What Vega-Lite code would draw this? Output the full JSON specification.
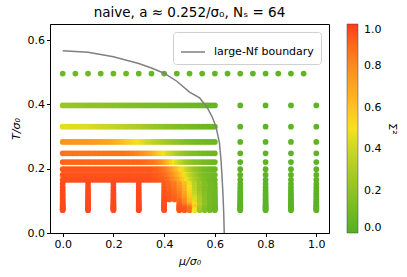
{
"$schema":"https://vega.github.io/schema/vega-lite/v6.json",
"width":279,"height":209,
"autosize":{"type":"none"},
"padding":{"left":50,"top":24,"right":78,"bottom":44},
"title":{"text":"naive, a ≈ 0.252/σ₀,   Nₛ = 64","fontSize":13.5,"fontWeight":"normal","font":"DejaVu Sans","anchor":"middle","frame":"group","offset":5,"color":"black"},
"config":{
"font":"DejaVu Sans",
"view":{"stroke":"black","strokeWidth":1},
"axis":{"grid":false,"domainColor":"black","tickColor":"black","tickSize":3.5,"labelFontSize":11,"labelColor":"black","titleFontSize":11,"titleFontWeight":"normal","titleColor":"black","labelFont":"DejaVu Sans","titleFont":"DejaVu Sans","titleFontStyle":"italic"}
},
"datasets":{
"curve":[
{"mu":0,"T":0.567},{"mu":0.1,"T":0.562},{"mu":0.2,"T":0.548},{"mu":0.3,"T":0.527},{"mu":0.35,"T":0.513},{"mu":0.4,"T":0.497},{"mu":0.45,"T":0.472},{"mu":0.5,"T":0.438},{"mu":0.54,"T":0.42},{"mu":0.57,"T":0.39},{"mu":0.59,"T":0.36},{"mu":0.605,"T":0.329},{"mu":0.618,"T":0.28},{"mu":0.624,"T":0.23},{"mu":0.628,"T":0.18},{"mu":0.632,"T":0.12},{"mu":0.635,"T":0.06},{"mu":0.637,"T":0}
],
"pts":[
{"mu":0,"T":0.496,"s":0.09},{"mu":0.05,"T":0.496,"s":0.09},{"mu":0.1,"T":0.496,"s":0.09},{"mu":0.15,"T":0.496,"s":0.08},{"mu":0.2,"T":0.496,"s":0.08},{"mu":0.25,"T":0.496,"s":0.08},{"mu":0.3,"T":0.496,"s":0.07},{"mu":0.35,"T":0.496,"s":0.07},{"mu":0.4,"T":0.496,"s":0.07},{"mu":0.45,"T":0.496,"s":0.06},{"mu":0.5,"T":0.496,"s":0.06},{"mu":0.55,"T":0.496,"s":0.06},{"mu":0.6,"T":0.496,"s":0.05},{"mu":0.65,"T":0.496,"s":0.05},{"mu":0.7,"T":0.496,"s":0.05},{"mu":0.75,"T":0.496,"s":0.04},{"mu":0.8,"T":0.496,"s":0.04},{"mu":0.85,"T":0.496,"s":0.04},{"mu":0.9,"T":0.496,"s":0.04},{"mu":0.95,"T":0.496,"s":0.04},

{"mu":0,"T":0.3968,"s":0.24},{"mu":0.01,"T":0.3968,"s":0.237},{"mu":0.02,"T":0.3968,"s":0.234},{"mu":0.03,"T":0.3968,"s":0.231},{"mu":0.04,"T":0.3968,"s":0.228},{"mu":0.05,"T":0.3968,"s":0.225},{"mu":0.06,"T":0.3968,"s":0.222},{"mu":0.07,"T":0.3968,"s":0.219},{"mu":0.08,"T":0.3968,"s":0.216},{"mu":0.09,"T":0.3968,"s":0.213},{"mu":0.1,"T":0.3968,"s":0.21},{"mu":0.11,"T":0.3968,"s":0.207},{"mu":0.12,"T":0.3968,"s":0.204},{"mu":0.13,"T":0.3968,"s":0.201},{"mu":0.14,"T":0.3968,"s":0.198},{"mu":0.15,"T":0.3968,"s":0.195},{"mu":0.16,"T":0.3968,"s":0.192},{"mu":0.17,"T":0.3968,"s":0.189},{"mu":0.18,"T":0.3968,"s":0.186},{"mu":0.19,"T":0.3968,"s":0.183},{"mu":0.2,"T":0.3968,"s":0.18},{"mu":0.21,"T":0.3968,"s":0.177},{"mu":0.22,"T":0.3968,"s":0.174},{"mu":0.23,"T":0.3968,"s":0.171},{"mu":0.24,"T":0.3968,"s":0.168},{"mu":0.25,"T":0.3968,"s":0.165},{"mu":0.26,"T":0.3968,"s":0.162},{"mu":0.27,"T":0.3968,"s":0.159},{"mu":0.28,"T":0.3968,"s":0.156},{"mu":0.29,"T":0.3968,"s":0.153},{"mu":0.3,"T":0.3968,"s":0.15},{"mu":0.31,"T":0.3968,"s":0.147},{"mu":0.32,"T":0.3968,"s":0.144},{"mu":0.33,"T":0.3968,"s":0.141},{"mu":0.34,"T":0.3968,"s":0.138},{"mu":0.35,"T":0.3968,"s":0.135},{"mu":0.36,"T":0.3968,"s":0.132},{"mu":0.37,"T":0.3968,"s":0.129},{"mu":0.38,"T":0.3968,"s":0.126},{"mu":0.39,"T":0.3968,"s":0.123},{"mu":0.4,"T":0.3968,"s":0.12},{"mu":0.41,"T":0.3968,"s":0.117},{"mu":0.42,"T":0.3968,"s":0.114},{"mu":0.43,"T":0.3968,"s":0.111},{"mu":0.44,"T":0.3968,"s":0.108},{"mu":0.45,"T":0.3968,"s":0.105},{"mu":0.46,"T":0.3968,"s":0.102},{"mu":0.47,"T":0.3968,"s":0.099},{"mu":0.48,"T":0.3968,"s":0.096},{"mu":0.49,"T":0.3968,"s":0.093},{"mu":0.5,"T":0.3968,"s":0.09},{"mu":0.51,"T":0.3968,"s":0.087},{"mu":0.52,"T":0.3968,"s":0.084},{"mu":0.53,"T":0.3968,"s":0.081},{"mu":0.54,"T":0.3968,"s":0.078},{"mu":0.55,"T":0.3968,"s":0.075},{"mu":0.56,"T":0.3968,"s":0.072},{"mu":0.57,"T":0.3968,"s":0.069},{"mu":0.58,"T":0.3968,"s":0.066},{"mu":0.59,"T":0.3968,"s":0.063},{"mu":0.6,"T":0.3968,"s":0.06},{"mu":0.7,"T":0.3968,"s":0.04},{"mu":0.8,"T":0.3968,"s":0.04},{"mu":0.9,"T":0.3968,"s":0.04},{"mu":1,"T":0.3968,"s":0.04},

{"mu":0,"T":0.3307,"s":0.46},{"mu":0.01,"T":0.3307,"s":0.46},{"mu":0.02,"T":0.3307,"s":0.46},{"mu":0.03,"T":0.3307,"s":0.455},{"mu":0.04,"T":0.3307,"s":0.45},{"mu":0.05,"T":0.3307,"s":0.45},{"mu":0.06,"T":0.3307,"s":0.45},{"mu":0.07,"T":0.3307,"s":0.445},{"mu":0.08,"T":0.3307,"s":0.44},{"mu":0.09,"T":0.3307,"s":0.44},{"mu":0.1,"T":0.3307,"s":0.44},{"mu":0.11,"T":0.3307,"s":0.435},{"mu":0.12,"T":0.3307,"s":0.43},{"mu":0.13,"T":0.3307,"s":0.425},{"mu":0.14,"T":0.3307,"s":0.42},{"mu":0.15,"T":0.3307,"s":0.41},{"mu":0.16,"T":0.3307,"s":0.4},{"mu":0.17,"T":0.3307,"s":0.395},{"mu":0.18,"T":0.3307,"s":0.39},{"mu":0.19,"T":0.3307,"s":0.385},{"mu":0.2,"T":0.3307,"s":0.38},{"mu":0.21,"T":0.3307,"s":0.37},{"mu":0.22,"T":0.3307,"s":0.36},{"mu":0.23,"T":0.3307,"s":0.355},{"mu":0.24,"T":0.3307,"s":0.35},{"mu":0.25,"T":0.3307,"s":0.34},{"mu":0.26,"T":0.3307,"s":0.33},{"mu":0.27,"T":0.3307,"s":0.325},{"mu":0.28,"T":0.3307,"s":0.32},{"mu":0.29,"T":0.3307,"s":0.31},{"mu":0.3,"T":0.3307,"s":0.3},{"mu":0.31,"T":0.3307,"s":0.29},{"mu":0.32,"T":0.3307,"s":0.28},{"mu":0.33,"T":0.3307,"s":0.27},{"mu":0.34,"T":0.3307,"s":0.26},{"mu":0.35,"T":0.3307,"s":0.25},{"mu":0.36,"T":0.3307,"s":0.24},{"mu":0.37,"T":0.3307,"s":0.23},{"mu":0.38,"T":0.3307,"s":0.22},{"mu":0.39,"T":0.3307,"s":0.21},{"mu":0.4,"T":0.3307,"s":0.2},{"mu":0.41,"T":0.3307,"s":0.19},{"mu":0.42,"T":0.3307,"s":0.18},{"mu":0.43,"T":0.3307,"s":0.175},{"mu":0.44,"T":0.3307,"s":0.17},{"mu":0.45,"T":0.3307,"s":0.16},{"mu":0.46,"T":0.3307,"s":0.15},{"mu":0.47,"T":0.3307,"s":0.145},{"mu":0.48,"T":0.3307,"s":0.14},{"mu":0.49,"T":0.3307,"s":0.13},{"mu":0.5,"T":0.3307,"s":0.12},{"mu":0.51,"T":0.3307,"s":0.115},{"mu":0.52,"T":0.3307,"s":0.11},{"mu":0.53,"T":0.3307,"s":0.105},{"mu":0.54,"T":0.3307,"s":0.1},{"mu":0.55,"T":0.3307,"s":0.095},{"mu":0.56,"T":0.3307,"s":0.09},{"mu":0.57,"T":0.3307,"s":0.085},{"mu":0.58,"T":0.3307,"s":0.08},{"mu":0.59,"T":0.3307,"s":0.075},{"mu":0.6,"T":0.3307,"s":0.07},{"mu":0.7,"T":0.3307,"s":0.04},{"mu":0.8,"T":0.3307,"s":0.04},{"mu":0.9,"T":0.3307,"s":0.04},{"mu":1,"T":0.3307,"s":0.04},

{"mu":0,"T":0.2834,"s":0.76},{"mu":0.01,"T":0.2834,"s":0.76},{"mu":0.02,"T":0.2834,"s":0.76},{"mu":0.03,"T":0.2834,"s":0.76},{"mu":0.04,"T":0.2834,"s":0.76},{"mu":0.05,"T":0.2834,"s":0.755},{"mu":0.06,"T":0.2834,"s":0.75},{"mu":0.07,"T":0.2834,"s":0.75},{"mu":0.08,"T":0.2834,"s":0.75},{"mu":0.09,"T":0.2834,"s":0.75},{"mu":0.1,"T":0.2834,"s":0.75},{"mu":0.11,"T":0.2834,"s":0.745},{"mu":0.12,"T":0.2834,"s":0.74},{"mu":0.13,"T":0.2834,"s":0.735},{"mu":0.14,"T":0.2834,"s":0.73},{"mu":0.15,"T":0.2834,"s":0.725},{"mu":0.16,"T":0.2834,"s":0.72},{"mu":0.17,"T":0.2834,"s":0.715},{"mu":0.18,"T":0.2834,"s":0.71},{"mu":0.19,"T":0.2834,"s":0.7},{"mu":0.2,"T":0.2834,"s":0.69},{"mu":0.21,"T":0.2834,"s":0.675},{"mu":0.22,"T":0.2834,"s":0.66},{"mu":0.23,"T":0.2834,"s":0.64},{"mu":0.24,"T":0.2834,"s":0.62},{"mu":0.25,"T":0.2834,"s":0.6},{"mu":0.26,"T":0.2834,"s":0.58},{"mu":0.27,"T":0.2834,"s":0.56},{"mu":0.28,"T":0.2834,"s":0.54},{"mu":0.29,"T":0.2834,"s":0.52},{"mu":0.3,"T":0.2834,"s":0.5},{"mu":0.31,"T":0.2834,"s":0.475},{"mu":0.32,"T":0.2834,"s":0.45},{"mu":0.33,"T":0.2834,"s":0.425},{"mu":0.34,"T":0.2834,"s":0.4},{"mu":0.35,"T":0.2834,"s":0.38},{"mu":0.36,"T":0.2834,"s":0.36},{"mu":0.37,"T":0.2834,"s":0.34},{"mu":0.38,"T":0.2834,"s":0.32},{"mu":0.39,"T":0.2834,"s":0.3},{"mu":0.4,"T":0.2834,"s":0.28},{"mu":0.41,"T":0.2834,"s":0.265},{"mu":0.42,"T":0.2834,"s":0.25},{"mu":0.43,"T":0.2834,"s":0.235},{"mu":0.44,"T":0.2834,"s":0.22},{"mu":0.45,"T":0.2834,"s":0.205},{"mu":0.46,"T":0.2834,"s":0.19},{"mu":0.47,"T":0.2834,"s":0.175},{"mu":0.48,"T":0.2834,"s":0.16},{"mu":0.49,"T":0.2834,"s":0.15},{"mu":0.5,"T":0.2834,"s":0.14},{"mu":0.51,"T":0.2834,"s":0.13},{"mu":0.52,"T":0.2834,"s":0.12},{"mu":0.53,"T":0.2834,"s":0.115},{"mu":0.54,"T":0.2834,"s":0.11},{"mu":0.55,"T":0.2834,"s":0.105},{"mu":0.56,"T":0.2834,"s":0.1},{"mu":0.57,"T":0.2834,"s":0.095},{"mu":0.58,"T":0.2834,"s":0.09},{"mu":0.59,"T":0.2834,"s":0.085},{"mu":0.6,"T":0.2834,"s":0.08},{"mu":0.7,"T":0.2834,"s":0.04},{"mu":0.8,"T":0.2834,"s":0.04},{"mu":0.9,"T":0.2834,"s":0.04},{"mu":1,"T":0.2834,"s":0.04},

{"mu":0,"T":0.248,"s":0.87},{"mu":0.01,"T":0.248,"s":0.87},{"mu":0.02,"T":0.248,"s":0.87},{"mu":0.03,"T":0.248,"s":0.87},{"mu":0.04,"T":0.248,"s":0.87},{"mu":0.05,"T":0.248,"s":0.87},{"mu":0.06,"T":0.248,"s":0.87},{"mu":0.07,"T":0.248,"s":0.87},{"mu":0.08,"T":0.248,"s":0.87},{"mu":0.09,"T":0.248,"s":0.87},{"mu":0.1,"T":0.248,"s":0.87},{"mu":0.11,"T":0.248,"s":0.87},{"mu":0.12,"T":0.248,"s":0.87},{"mu":0.13,"T":0.248,"s":0.87},{"mu":0.14,"T":0.248,"s":0.87},{"mu":0.15,"T":0.248,"s":0.87},{"mu":0.16,"T":0.248,"s":0.87},{"mu":0.17,"T":0.248,"s":0.87},{"mu":0.18,"T":0.248,"s":0.87},{"mu":0.19,"T":0.248,"s":0.87},{"mu":0.2,"T":0.248,"s":0.87},{"mu":0.21,"T":0.248,"s":0.87},{"mu":0.22,"T":0.248,"s":0.87},{"mu":0.23,"T":0.248,"s":0.87},{"mu":0.24,"T":0.248,"s":0.87},{"mu":0.25,"T":0.248,"s":0.87},{"mu":0.26,"T":0.248,"s":0.86},{"mu":0.27,"T":0.248,"s":0.85},{"mu":0.28,"T":0.248,"s":0.84},{"mu":0.29,"T":0.248,"s":0.825},{"mu":0.3,"T":0.248,"s":0.81},{"mu":0.31,"T":0.248,"s":0.79},{"mu":0.32,"T":0.248,"s":0.77},{"mu":0.33,"T":0.248,"s":0.745},{"mu":0.34,"T":0.248,"s":0.72},{"mu":0.35,"T":0.248,"s":0.69},{"mu":0.36,"T":0.248,"s":0.66},{"mu":0.37,"T":0.248,"s":0.62},{"mu":0.38,"T":0.248,"s":0.58},{"mu":0.39,"T":0.248,"s":0.54},{"mu":0.4,"T":0.248,"s":0.5},{"mu":0.41,"T":0.248,"s":0.46},{"mu":0.42,"T":0.248,"s":0.42},{"mu":0.43,"T":0.248,"s":0.385},{"mu":0.44,"T":0.248,"s":0.35},{"mu":0.45,"T":0.248,"s":0.315},{"mu":0.46,"T":0.248,"s":0.28},{"mu":0.47,"T":0.248,"s":0.25},{"mu":0.48,"T":0.248,"s":0.22},{"mu":0.49,"T":0.248,"s":0.2},{"mu":0.5,"T":0.248,"s":0.18},{"mu":0.51,"T":0.248,"s":0.165},{"mu":0.52,"T":0.248,"s":0.15},{"mu":0.53,"T":0.248,"s":0.14},{"mu":0.54,"T":0.248,"s":0.13},{"mu":0.55,"T":0.248,"s":0.12},{"mu":0.56,"T":0.248,"s":0.11},{"mu":0.57,"T":0.248,"s":0.1},{"mu":0.58,"T":0.248,"s":0.09},{"mu":0.59,"T":0.248,"s":0.085},{"mu":0.6,"T":0.248,"s":0.08},{"mu":0.7,"T":0.248,"s":0.04},{"mu":0.8,"T":0.248,"s":0.04},{"mu":0.9,"T":0.248,"s":0.04},{"mu":1,"T":0.248,"s":0.04},

{"mu":0,"T":0.2205,"s":0.91},{"mu":0.01,"T":0.2205,"s":0.91},{"mu":0.02,"T":0.2205,"s":0.91},{"mu":0.03,"T":0.2205,"s":0.91},{"mu":0.04,"T":0.2205,"s":0.91},{"mu":0.05,"T":0.2205,"s":0.91},{"mu":0.06,"T":0.2205,"s":0.91},{"mu":0.07,"T":0.2205,"s":0.91},{"mu":0.08,"T":0.2205,"s":0.91},{"mu":0.09,"T":0.2205,"s":0.91},{"mu":0.1,"T":0.2205,"s":0.91},{"mu":0.11,"T":0.2205,"s":0.91},{"mu":0.12,"T":0.2205,"s":0.91},{"mu":0.13,"T":0.2205,"s":0.91},{"mu":0.14,"T":0.2205,"s":0.91},{"mu":0.15,"T":0.2205,"s":0.91},{"mu":0.16,"T":0.2205,"s":0.91},{"mu":0.17,"T":0.2205,"s":0.91},{"mu":0.18,"T":0.2205,"s":0.91},{"mu":0.19,"T":0.2205,"s":0.91},{"mu":0.2,"T":0.2205,"s":0.91},{"mu":0.21,"T":0.2205,"s":0.91},{"mu":0.22,"T":0.2205,"s":0.91},{"mu":0.23,"T":0.2205,"s":0.91},{"mu":0.24,"T":0.2205,"s":0.91},{"mu":0.25,"T":0.2205,"s":0.91},{"mu":0.26,"T":0.2205,"s":0.91},{"mu":0.27,"T":0.2205,"s":0.91},{"mu":0.28,"T":0.2205,"s":0.91},{"mu":0.29,"T":0.2205,"s":0.91},{"mu":0.3,"T":0.2205,"s":0.91},{"mu":0.31,"T":0.2205,"s":0.91},{"mu":0.32,"T":0.2205,"s":0.9},{"mu":0.33,"T":0.2205,"s":0.89},{"mu":0.34,"T":0.2205,"s":0.88},{"mu":0.35,"T":0.2205,"s":0.87},{"mu":0.36,"T":0.2205,"s":0.86},{"mu":0.37,"T":0.2205,"s":0.84},{"mu":0.38,"T":0.2205,"s":0.82},{"mu":0.39,"T":0.2205,"s":0.78},{"mu":0.4,"T":0.2205,"s":0.74},{"mu":0.41,"T":0.2205,"s":0.68},{"mu":0.42,"T":0.2205,"s":0.62},{"mu":0.43,"T":0.2205,"s":0.56},{"mu":0.44,"T":0.2205,"s":0.5},{"mu":0.45,"T":0.2205,"s":0.45},{"mu":0.46,"T":0.2205,"s":0.4},{"mu":0.47,"T":0.2205,"s":0.35},{"mu":0.48,"T":0.2205,"s":0.3},{"mu":0.49,"T":0.2205,"s":0.265},{"mu":0.5,"T":0.2205,"s":0.23},{"mu":0.51,"T":0.2205,"s":0.205},{"mu":0.52,"T":0.2205,"s":0.18},{"mu":0.53,"T":0.2205,"s":0.165},{"mu":0.54,"T":0.2205,"s":0.15},{"mu":0.55,"T":0.2205,"s":0.135},{"mu":0.56,"T":0.2205,"s":0.12},{"mu":0.57,"T":0.2205,"s":0.11},{"mu":0.58,"T":0.2205,"s":0.1},{"mu":0.59,"T":0.2205,"s":0.09},{"mu":0.6,"T":0.2205,"s":0.08},{"mu":0.7,"T":0.2205,"s":0.03},{"mu":0.8,"T":0.2205,"s":0.03},{"mu":0.9,"T":0.2205,"s":0.03},{"mu":1,"T":0.2205,"s":0.03},

{"mu":0,"T":0.1984,"s":0.94},{"mu":0.01,"T":0.1984,"s":0.94},{"mu":0.02,"T":0.1984,"s":0.94},{"mu":0.03,"T":0.1984,"s":0.94},{"mu":0.04,"T":0.1984,"s":0.94},{"mu":0.05,"T":0.1984,"s":0.94},{"mu":0.06,"T":0.1984,"s":0.94},{"mu":0.07,"T":0.1984,"s":0.94},{"mu":0.08,"T":0.1984,"s":0.94},{"mu":0.09,"T":0.1984,"s":0.94},{"mu":0.1,"T":0.1984,"s":0.94},{"mu":0.11,"T":0.1984,"s":0.94},{"mu":0.12,"T":0.1984,"s":0.94},{"mu":0.13,"T":0.1984,"s":0.94},{"mu":0.14,"T":0.1984,"s":0.94},{"mu":0.15,"T":0.1984,"s":0.94},{"mu":0.16,"T":0.1984,"s":0.94},{"mu":0.17,"T":0.1984,"s":0.94},{"mu":0.18,"T":0.1984,"s":0.94},{"mu":0.19,"T":0.1984,"s":0.94},{"mu":0.2,"T":0.1984,"s":0.94},{"mu":0.21,"T":0.1984,"s":0.94},{"mu":0.22,"T":0.1984,"s":0.94},{"mu":0.23,"T":0.1984,"s":0.94},{"mu":0.24,"T":0.1984,"s":0.94},{"mu":0.25,"T":0.1984,"s":0.94},{"mu":0.26,"T":0.1984,"s":0.94},{"mu":0.27,"T":0.1984,"s":0.94},{"mu":0.28,"T":0.1984,"s":0.94},{"mu":0.29,"T":0.1984,"s":0.94},{"mu":0.3,"T":0.1984,"s":0.94},{"mu":0.31,"T":0.1984,"s":0.94},{"mu":0.32,"T":0.1984,"s":0.94},{"mu":0.33,"T":0.1984,"s":0.94},{"mu":0.34,"T":0.1984,"s":0.94},{"mu":0.35,"T":0.1984,"s":0.94},{"mu":0.36,"T":0.1984,"s":0.93},{"mu":0.37,"T":0.1984,"s":0.92},{"mu":0.38,"T":0.1984,"s":0.91},{"mu":0.39,"T":0.1984,"s":0.89},{"mu":0.4,"T":0.1984,"s":0.87},{"mu":0.41,"T":0.1984,"s":0.835},{"mu":0.42,"T":0.1984,"s":0.8},{"mu":0.43,"T":0.1984,"s":0.75},{"mu":0.44,"T":0.1984,"s":0.7},{"mu":0.45,"T":0.1984,"s":0.64},{"mu":0.46,"T":0.1984,"s":0.58},{"mu":0.47,"T":0.1984,"s":0.52},{"mu":0.48,"T":0.1984,"s":0.46},{"mu":0.49,"T":0.1984,"s":0.4},{"mu":0.5,"T":0.1984,"s":0.34},{"mu":0.51,"T":0.1984,"s":0.295},{"mu":0.52,"T":0.1984,"s":0.25},{"mu":0.53,"T":0.1984,"s":0.215},{"mu":0.54,"T":0.1984,"s":0.18},{"mu":0.55,"T":0.1984,"s":0.155},{"mu":0.56,"T":0.1984,"s":0.13},{"mu":0.57,"T":0.1984,"s":0.115},{"mu":0.58,"T":0.1984,"s":0.1},{"mu":0.59,"T":0.1984,"s":0.09},{"mu":0.6,"T":0.1984,"s":0.08},{"mu":0.7,"T":0.1984,"s":0.03},{"mu":0.8,"T":0.1984,"s":0.03},{"mu":0.9,"T":0.1984,"s":0.03},{"mu":1,"T":0.1984,"s":0.03},

{"mu":0,"T":0.1804,"s":0.95},{"mu":0.01,"T":0.1804,"s":0.95},{"mu":0.02,"T":0.1804,"s":0.95},{"mu":0.03,"T":0.1804,"s":0.95},{"mu":0.04,"T":0.1804,"s":0.95},{"mu":0.05,"T":0.1804,"s":0.95},{"mu":0.06,"T":0.1804,"s":0.95},{"mu":0.07,"T":0.1804,"s":0.95},{"mu":0.08,"T":0.1804,"s":0.95},{"mu":0.09,"T":0.1804,"s":0.95},{"mu":0.1,"T":0.1804,"s":0.95},{"mu":0.11,"T":0.1804,"s":0.95},{"mu":0.12,"T":0.1804,"s":0.95},{"mu":0.13,"T":0.1804,"s":0.95},{"mu":0.14,"T":0.1804,"s":0.95},{"mu":0.15,"T":0.1804,"s":0.95},{"mu":0.16,"T":0.1804,"s":0.95},{"mu":0.17,"T":0.1804,"s":0.95},{"mu":0.18,"T":0.1804,"s":0.95},{"mu":0.19,"T":0.1804,"s":0.95},{"mu":0.2,"T":0.1804,"s":0.95},{"mu":0.21,"T":0.1804,"s":0.95},{"mu":0.22,"T":0.1804,"s":0.95},{"mu":0.23,"T":0.1804,"s":0.95},{"mu":0.24,"T":0.1804,"s":0.95},{"mu":0.25,"T":0.1804,"s":0.95},{"mu":0.26,"T":0.1804,"s":0.95},{"mu":0.27,"T":0.1804,"s":0.95},{"mu":0.28,"T":0.1804,"s":0.95},{"mu":0.29,"T":0.1804,"s":0.95},{"mu":0.3,"T":0.1804,"s":0.95},{"mu":0.31,"T":0.1804,"s":0.95},{"mu":0.32,"T":0.1804,"s":0.95},{"mu":0.33,"T":0.1804,"s":0.95},{"mu":0.34,"T":0.1804,"s":0.95},{"mu":0.35,"T":0.1804,"s":0.95},{"mu":0.36,"T":0.1804,"s":0.94},{"mu":0.37,"T":0.1804,"s":0.935},{"mu":0.38,"T":0.1804,"s":0.93},{"mu":0.39,"T":0.1804,"s":0.915},{"mu":0.4,"T":0.1804,"s":0.9},{"mu":0.41,"T":0.1804,"s":0.875},{"mu":0.42,"T":0.1804,"s":0.85},{"mu":0.43,"T":0.1804,"s":0.805},{"mu":0.44,"T":0.1804,"s":0.76},{"mu":0.45,"T":0.1804,"s":0.705},{"mu":0.46,"T":0.1804,"s":0.65},{"mu":0.47,"T":0.1804,"s":0.585},{"mu":0.48,"T":0.1804,"s":0.52},{"mu":0.49,"T":0.1804,"s":0.46},{"mu":0.5,"T":0.1804,"s":0.4},{"mu":0.51,"T":0.1804,"s":0.345},{"mu":0.52,"T":0.1804,"s":0.29},{"mu":0.53,"T":0.1804,"s":0.245},{"mu":0.54,"T":0.1804,"s":0.2},{"mu":0.55,"T":0.1804,"s":0.17},{"mu":0.56,"T":0.1804,"s":0.14},{"mu":0.57,"T":0.1804,"s":0.125},{"mu":0.58,"T":0.1804,"s":0.11},{"mu":0.59,"T":0.1804,"s":0.1},{"mu":0.6,"T":0.1804,"s":0.09},{"mu":0.7,"T":0.1804,"s":0.03},{"mu":0.8,"T":0.1804,"s":0.03},{"mu":0.9,"T":0.1804,"s":0.03},{"mu":1,"T":0.1804,"s":0.03},

{"mu":0,"T":0.1653,"s":0.96},{"mu":0.01,"T":0.1653,"s":0.96},{"mu":0.02,"T":0.1653,"s":0.96},{"mu":0.03,"T":0.1653,"s":0.96},{"mu":0.04,"T":0.1653,"s":0.96},{"mu":0.05,"T":0.1653,"s":0.96},{"mu":0.06,"T":0.1653,"s":0.96},{"mu":0.07,"T":0.1653,"s":0.96},{"mu":0.08,"T":0.1653,"s":0.96},{"mu":0.09,"T":0.1653,"s":0.96},{"mu":0.1,"T":0.1653,"s":0.96},{"mu":0.11,"T":0.1653,"s":0.96},{"mu":0.12,"T":0.1653,"s":0.96},{"mu":0.13,"T":0.1653,"s":0.96},{"mu":0.14,"T":0.1653,"s":0.96},{"mu":0.15,"T":0.1653,"s":0.96},{"mu":0.16,"T":0.1653,"s":0.96},{"mu":0.17,"T":0.1653,"s":0.96},{"mu":0.18,"T":0.1653,"s":0.96},{"mu":0.19,"T":0.1653,"s":0.96},{"mu":0.2,"T":0.1653,"s":0.96},{"mu":0.21,"T":0.1653,"s":0.96},{"mu":0.22,"T":0.1653,"s":0.96},{"mu":0.23,"T":0.1653,"s":0.96},{"mu":0.24,"T":0.1653,"s":0.96},{"mu":0.25,"T":0.1653,"s":0.96},{"mu":0.26,"T":0.1653,"s":0.96},{"mu":0.27,"T":0.1653,"s":0.96},{"mu":0.28,"T":0.1653,"s":0.96},{"mu":0.29,"T":0.1653,"s":0.96},{"mu":0.3,"T":0.1653,"s":0.96},{"mu":0.31,"T":0.1653,"s":0.96},{"mu":0.32,"T":0.1653,"s":0.96},{"mu":0.33,"T":0.1653,"s":0.96},{"mu":0.34,"T":0.1653,"s":0.96},{"mu":0.35,"T":0.1653,"s":0.96},{"mu":0.36,"T":0.1653,"s":0.95},{"mu":0.37,"T":0.1653,"s":0.945},{"mu":0.38,"T":0.1653,"s":0.94},{"mu":0.39,"T":0.1653,"s":0.93},{"mu":0.4,"T":0.1653,"s":0.92},{"mu":0.41,"T":0.1653,"s":0.9},{"mu":0.42,"T":0.1653,"s":0.88},{"mu":0.43,"T":0.1653,"s":0.84},{"mu":0.44,"T":0.1653,"s":0.8},{"mu":0.45,"T":0.1653,"s":0.75},{"mu":0.46,"T":0.1653,"s":0.7},{"mu":0.47,"T":0.1653,"s":0.635},{"mu":0.48,"T":0.1653,"s":0.57},{"mu":0.49,"T":0.1653,"s":0.505},{"mu":0.5,"T":0.1653,"s":0.44},{"mu":0.51,"T":0.1653,"s":0.38},{"mu":0.52,"T":0.1653,"s":0.32},{"mu":0.53,"T":0.1653,"s":0.27},{"mu":0.54,"T":0.1653,"s":0.22},{"mu":0.55,"T":0.1653,"s":0.185},{"mu":0.56,"T":0.1653,"s":0.15},{"mu":0.57,"T":0.1653,"s":0.13},{"mu":0.58,"T":0.1653,"s":0.11},{"mu":0.59,"T":0.1653,"s":0.1},{"mu":0.6,"T":0.1653,"s":0.09},{"mu":0.7,"T":0.1653,"s":0.03},{"mu":0.8,"T":0.1653,"s":0.03},{"mu":0.9,"T":0.1653,"s":0.03},{"mu":1,"T":0.1653,"s":0.03},

{"mu":0,"T":0.1526,"s":0.97},{"mu":0.1,"T":0.1526,"s":0.97},{"mu":0.2,"T":0.1526,"s":0.97},{"mu":0.3,"T":0.1526,"s":0.97},{"mu":0.4,"T":0.1526,"s":0.93},{"mu":0.42,"T":0.1526,"s":0.9},{"mu":0.44,"T":0.1526,"s":0.84},{"mu":0.46,"T":0.1526,"s":0.75},{"mu":0.48,"T":0.1526,"s":0.62},{"mu":0.5,"T":0.1526,"s":0.48},{"mu":0.52,"T":0.1526,"s":0.34},{"mu":0.54,"T":0.1526,"s":0.23},{"mu":0.56,"T":0.1526,"s":0.15},{"mu":0.58,"T":0.1526,"s":0.11},{"mu":0.6,"T":0.1526,"s":0.09},{"mu":0.7,"T":0.1526,"s":0.03},{"mu":0.8,"T":0.1526,"s":0.03},{"mu":0.9,"T":0.1526,"s":0.03},{"mu":1,"T":0.1526,"s":0.03},

{"mu":0,"T":0.1417,"s":0.97},{"mu":0.1,"T":0.1417,"s":0.97},{"mu":0.2,"T":0.1417,"s":0.97},{"mu":0.3,"T":0.1417,"s":0.97},{"mu":0.4,"T":0.1417,"s":0.94},{"mu":0.42,"T":0.1417,"s":0.91},{"mu":0.44,"T":0.1417,"s":0.86},{"mu":0.46,"T":0.1417,"s":0.78},{"mu":0.48,"T":0.1417,"s":0.65},{"mu":0.5,"T":0.1417,"s":0.5},{"mu":0.52,"T":0.1417,"s":0.35},{"mu":0.54,"T":0.1417,"s":0.23},{"mu":0.56,"T":0.1417,"s":0.15},{"mu":0.58,"T":0.1417,"s":0.11},{"mu":0.6,"T":0.1417,"s":0.09},{"mu":0.7,"T":0.1417,"s":0.03},{"mu":0.8,"T":0.1417,"s":0.03},{"mu":0.9,"T":0.1417,"s":0.03},{"mu":1,"T":0.1417,"s":0.03},

{"mu":0,"T":0.1323,"s":0.97},{"mu":0.1,"T":0.1323,"s":0.97},{"mu":0.2,"T":0.1323,"s":0.97},{"mu":0.3,"T":0.1323,"s":0.97},{"mu":0.4,"T":0.1323,"s":0.94},{"mu":0.42,"T":0.1323,"s":0.92},{"mu":0.44,"T":0.1323,"s":0.88},{"mu":0.46,"T":0.1323,"s":0.8},{"mu":0.48,"T":0.1323,"s":0.67},{"mu":0.5,"T":0.1323,"s":0.52},{"mu":0.52,"T":0.1323,"s":0.36},{"mu":0.54,"T":0.1323,"s":0.23},{"mu":0.56,"T":0.1323,"s":0.15},{"mu":0.58,"T":0.1323,"s":0.11},{"mu":0.6,"T":0.1323,"s":0.09},{"mu":0.7,"T":0.1323,"s":0.03},{"mu":0.8,"T":0.1323,"s":0.03},{"mu":0.9,"T":0.1323,"s":0.03},{"mu":1,"T":0.1323,"s":0.03},

{"mu":0,"T":0.124,"s":0.97},{"mu":0.1,"T":0.124,"s":0.97},{"mu":0.2,"T":0.124,"s":0.97},{"mu":0.3,"T":0.124,"s":0.97},{"mu":0.4,"T":0.124,"s":0.95},{"mu":0.42,"T":0.124,"s":0.93},{"mu":0.44,"T":0.124,"s":0.89},{"mu":0.46,"T":0.124,"s":0.82},{"mu":0.48,"T":0.124,"s":0.7},{"mu":0.5,"T":0.124,"s":0.54},{"mu":0.52,"T":0.124,"s":0.38},{"mu":0.54,"T":0.124,"s":0.24},{"mu":0.56,"T":0.124,"s":0.16},{"mu":0.58,"T":0.124,"s":0.11},{"mu":0.6,"T":0.124,"s":0.09},{"mu":0.7,"T":0.124,"s":0.03},{"mu":0.8,"T":0.124,"s":0.03},{"mu":0.9,"T":0.124,"s":0.03},{"mu":1,"T":0.124,"s":0.03},

{"mu":0,"T":0.1167,"s":0.97},{"mu":0.1,"T":0.1167,"s":0.97},{"mu":0.2,"T":0.1167,"s":0.97},{"mu":0.3,"T":0.1167,"s":0.97},{"mu":0.4,"T":0.1167,"s":0.95},{"mu":0.42,"T":0.1167,"s":0.93},{"mu":0.44,"T":0.1167,"s":0.9},{"mu":0.46,"T":0.1167,"s":0.84},{"mu":0.48,"T":0.1167,"s":0.72},{"mu":0.5,"T":0.1167,"s":0.56},{"mu":0.52,"T":0.1167,"s":0.4},{"mu":0.54,"T":0.1167,"s":0.26},{"mu":0.56,"T":0.1167,"s":0.17},{"mu":0.58,"T":0.1167,"s":0.12},{"mu":0.6,"T":0.1167,"s":0.09},{"mu":0.7,"T":0.1167,"s":0.03},{"mu":0.8,"T":0.1167,"s":0.03},{"mu":0.9,"T":0.1167,"s":0.03},{"mu":1,"T":0.1167,"s":0.03},

{"mu":0,"T":0.1102,"s":0.97},{"mu":0.1,"T":0.1102,"s":0.97},{"mu":0.2,"T":0.1102,"s":0.97},{"mu":0.3,"T":0.1102,"s":0.97},{"mu":0.4,"T":0.1102,"s":0.95},{"mu":0.42,"T":0.1102,"s":0.94},{"mu":0.44,"T":0.1102,"s":0.91},{"mu":0.46,"T":0.1102,"s":0.85},{"mu":0.48,"T":0.1102,"s":0.74},{"mu":0.5,"T":0.1102,"s":0.58},{"mu":0.52,"T":0.1102,"s":0.42},{"mu":0.54,"T":0.1102,"s":0.28},{"mu":0.56,"T":0.1102,"s":0.18},{"mu":0.58,"T":0.1102,"s":0.12},{"mu":0.6,"T":0.1102,"s":0.09},{"mu":0.7,"T":0.1102,"s":0.03},{"mu":0.8,"T":0.1102,"s":0.03},{"mu":0.9,"T":0.1102,"s":0.03},{"mu":1,"T":0.1102,"s":0.03},

{"mu":0,"T":0.1044,"s":0.97},{"mu":0.1,"T":0.1044,"s":0.97},{"mu":0.2,"T":0.1044,"s":0.97},{"mu":0.3,"T":0.1044,"s":0.97},{"mu":0.4,"T":0.1044,"s":0.96},{"mu":0.42,"T":0.1044,"s":0.94},{"mu":0.44,"T":0.1044,"s":0.92},{"mu":0.46,"T":0.1044,"s":0.86},{"mu":0.48,"T":0.1044,"s":0.76},{"mu":0.5,"T":0.1044,"s":0.6},{"mu":0.52,"T":0.1044,"s":0.44},{"mu":0.54,"T":0.1044,"s":0.3},{"mu":0.56,"T":0.1044,"s":0.19},{"mu":0.58,"T":0.1044,"s":0.12},{"mu":0.6,"T":0.1044,"s":0.09},{"mu":0.7,"T":0.1044,"s":0.03},{"mu":0.8,"T":0.1044,"s":0.03},{"mu":0.9,"T":0.1044,"s":0.03},{"mu":1,"T":0.1044,"s":0.03},

{"mu":0,"T":0.0992,"s":0.97},{"mu":0.1,"T":0.0992,"s":0.97},{"mu":0.2,"T":0.0992,"s":0.97},{"mu":0.3,"T":0.0992,"s":0.97},{"mu":0.4,"T":0.0992,"s":0.96},{"mu":0.46,"T":0.0992,"s":0.9},{"mu":0.48,"T":0.0992,"s":0.8},{"mu":0.5,"T":0.0992,"s":0.62},{"mu":0.52,"T":0.0992,"s":0.44},{"mu":0.54,"T":0.0992,"s":0.3},{"mu":0.56,"T":0.0992,"s":0.19},{"mu":0.58,"T":0.0992,"s":0.12},{"mu":0.6,"T":0.0992,"s":0.09},{"mu":0.7,"T":0.0992,"s":0.03},{"mu":0.8,"T":0.0992,"s":0.03},{"mu":0.9,"T":0.0992,"s":0.03},{"mu":1,"T":0.0992,"s":0.03},

{"mu":0,"T":0.0945,"s":0.97},{"mu":0.1,"T":0.0945,"s":0.97},{"mu":0.2,"T":0.0945,"s":0.97},{"mu":0.3,"T":0.0945,"s":0.97},{"mu":0.4,"T":0.0945,"s":0.96},{"mu":0.46,"T":0.0945,"s":0.9},{"mu":0.48,"T":0.0945,"s":0.8},{"mu":0.5,"T":0.0945,"s":0.62},{"mu":0.52,"T":0.0945,"s":0.45},{"mu":0.54,"T":0.0945,"s":0.3},{"mu":0.56,"T":0.0945,"s":0.19},{"mu":0.58,"T":0.0945,"s":0.12},{"mu":0.6,"T":0.0945,"s":0.09},{"mu":0.7,"T":0.0945,"s":0.03},{"mu":0.8,"T":0.0945,"s":0.03},{"mu":0.9,"T":0.0945,"s":0.03},{"mu":1,"T":0.0945,"s":0.03},

{"mu":0,"T":0.0902,"s":0.97},{"mu":0.1,"T":0.0902,"s":0.97},{"mu":0.2,"T":0.0902,"s":0.97},{"mu":0.3,"T":0.0902,"s":0.97},{"mu":0.4,"T":0.0902,"s":0.96},{"mu":0.46,"T":0.0902,"s":0.91},{"mu":0.48,"T":0.0902,"s":0.82},{"mu":0.5,"T":0.0902,"s":0.64},{"mu":0.52,"T":0.0902,"s":0.46},{"mu":0.54,"T":0.0902,"s":0.3},{"mu":0.56,"T":0.0902,"s":0.2},{"mu":0.58,"T":0.0902,"s":0.12},{"mu":0.6,"T":0.0902,"s":0.09},{"mu":0.7,"T":0.0902,"s":0.03},{"mu":0.8,"T":0.0902,"s":0.03},{"mu":0.9,"T":0.0902,"s":0.03},{"mu":1,"T":0.0902,"s":0.03},

{"mu":0,"T":0.0863,"s":0.97},{"mu":0.1,"T":0.0863,"s":0.97},{"mu":0.2,"T":0.0863,"s":0.97},{"mu":0.3,"T":0.0863,"s":0.97},{"mu":0.4,"T":0.0863,"s":0.96},{"mu":0.46,"T":0.0863,"s":0.92},{"mu":0.48,"T":0.0863,"s":0.84},{"mu":0.5,"T":0.0863,"s":0.7},{"mu":0.52,"T":0.0863,"s":0.5},{"mu":0.54,"T":0.0863,"s":0.3},{"mu":0.56,"T":0.0863,"s":0.2},{"mu":0.58,"T":0.0863,"s":0.12},{"mu":0.6,"T":0.0863,"s":0.09},{"mu":0.7,"T":0.0863,"s":0.03},{"mu":0.8,"T":0.0863,"s":0.03},{"mu":0.9,"T":0.0863,"s":0.03},{"mu":1,"T":0.0863,"s":0.03},

{"mu":0,"T":0.0827,"s":0.97},{"mu":0.1,"T":0.0827,"s":0.97},{"mu":0.2,"T":0.0827,"s":0.97},{"mu":0.3,"T":0.0827,"s":0.97},{"mu":0.4,"T":0.0827,"s":0.96},{"mu":0.46,"T":0.0827,"s":0.93},{"mu":0.48,"T":0.0827,"s":0.86},{"mu":0.5,"T":0.0827,"s":0.74},{"mu":0.52,"T":0.0827,"s":0.55},{"mu":0.54,"T":0.0827,"s":0.34},{"mu":0.56,"T":0.0827,"s":0.2},{"mu":0.58,"T":0.0827,"s":0.12},{"mu":0.6,"T":0.0827,"s":0.09},{"mu":0.7,"T":0.0827,"s":0.03},{"mu":0.8,"T":0.0827,"s":0.03},{"mu":0.9,"T":0.0827,"s":0.03},{"mu":1,"T":0.0827,"s":0.03},

{"mu":0,"T":0.0794,"s":0.97},{"mu":0.1,"T":0.0794,"s":0.97},{"mu":0.2,"T":0.0794,"s":0.97},{"mu":0.3,"T":0.0794,"s":0.97},{"mu":0.4,"T":0.0794,"s":0.96},{"mu":0.46,"T":0.0794,"s":0.94},{"mu":0.48,"T":0.0794,"s":0.9},{"mu":0.5,"T":0.0794,"s":0.8},{"mu":0.52,"T":0.0794,"s":0.6},{"mu":0.54,"T":0.0794,"s":0.3},{"mu":0.56,"T":0.0794,"s":0.18},{"mu":0.58,"T":0.0794,"s":0.12},{"mu":0.6,"T":0.0794,"s":0.09},{"mu":0.7,"T":0.0794,"s":0.03},{"mu":0.8,"T":0.0794,"s":0.03},{"mu":0.9,"T":0.0794,"s":0.03},{"mu":1,"T":0.0794,"s":0.03},

{"mu":0,"T":0.0763,"s":0.97},{"mu":0.1,"T":0.0763,"s":0.97},{"mu":0.2,"T":0.0763,"s":0.97},{"mu":0.3,"T":0.0763,"s":0.97},{"mu":0.4,"T":0.0763,"s":0.96},{"mu":0.46,"T":0.0763,"s":0.95},{"mu":0.48,"T":0.0763,"s":0.92},{"mu":0.5,"T":0.0763,"s":0.84},{"mu":0.52,"T":0.0763,"s":0.55},{"mu":0.54,"T":0.0763,"s":0.25},{"mu":0.56,"T":0.0763,"s":0.15},{"mu":0.58,"T":0.0763,"s":0.1},{"mu":0.6,"T":0.0763,"s":0.08},{"mu":0.7,"T":0.0763,"s":0.03},{"mu":0.8,"T":0.0763,"s":0.03},{"mu":0.9,"T":0.0763,"s":0.03},{"mu":1,"T":0.0763,"s":0.03},

{"mu":0,"T":0.0735,"s":0.97},{"mu":0.1,"T":0.0735,"s":0.97},{"mu":0.2,"T":0.0735,"s":0.97},{"mu":0.3,"T":0.0735,"s":0.97},{"mu":0.4,"T":0.0735,"s":0.96},{"mu":0.46,"T":0.0735,"s":0.95},{"mu":0.48,"T":0.0735,"s":0.93},{"mu":0.5,"T":0.0735,"s":0.86},{"mu":0.52,"T":0.0735,"s":0.6},{"mu":0.54,"T":0.0735,"s":0.3},{"mu":0.56,"T":0.0735,"s":0.2},{"mu":0.58,"T":0.0735,"s":0.12},{"mu":0.6,"T":0.0735,"s":0.08},{"mu":0.7,"T":0.0735,"s":0.03},{"mu":0.8,"T":0.0735,"s":0.03},{"mu":0.9,"T":0.0735,"s":0.03},{"mu":1,"T":0.0735,"s":0.03},

{"mu":0,"T":0.0709,"s":0.97},{"mu":0.1,"T":0.0709,"s":0.97},{"mu":0.2,"T":0.0709,"s":0.97},{"mu":0.3,"T":0.0709,"s":0.97},{"mu":0.4,"T":0.0709,"s":0.96},{"mu":0.46,"T":0.0709,"s":0.95},{"mu":0.48,"T":0.0709,"s":0.94},{"mu":0.5,"T":0.0709,"s":0.88},{"mu":0.52,"T":0.0709,"s":0.5},{"mu":0.54,"T":0.0709,"s":0.25},{"mu":0.56,"T":0.0709,"s":0.15},{"mu":0.58,"T":0.0709,"s":0.1},{"mu":0.6,"T":0.0709,"s":0.08},{"mu":0.7,"T":0.0709,"s":0.03},{"mu":0.8,"T":0.0709,"s":0.03},{"mu":0.9,"T":0.0709,"s":0.03},{"mu":1,"T":0.0709,"s":0.03}
]
},
"layer":[
{"data":{"name":"pts"},
"mark":{"type":"circle","size":33,"opacity":1},
"encoding":{
"x":{"field":"mu","type":"quantitative","scale":{"domain":[-0.05,1.05],"nice":false,"zero":false},"axis":{"values":[0,0.2,0.4,0.6,0.8,1],"format":".1f","title":"μ/σ₀","titlePadding":6}},
"y":{"field":"T","type":"quantitative","scale":{"domain":[0,0.65],"nice":false},"axis":{"values":[0,0.1,0.2,0.3,0.4,0.5,0.6],"format":".1f","title":"T/σ₀","titlePadding":6}},
"fill":{"field":"s","type":"quantitative","scale":{"domain":[0,0.2,0.4,0.5,0.6,0.8,1],"range":["#52b024","#8fc227","#cbd724","#f6e21c","#fcc323","#fb8a24","#ff381f"]},
"legend":{"title":"Σ²","orient":"right","direction":"vertical","gradientLength":209,"gradientThickness":11,"values":[0,0.2,0.4,0.6,0.8,1],"format":".1f","labelFontSize":11,"labelColor":"black","labelOffset":6,"labelOverlap":false,"titleOrient":"right","offset":18,"gradientStrokeColor":"#444","gradientStrokeWidth":0.5,"titleFontSize":11,"titleFontWeight":"normal","titleColor":"black","titlePadding":6,"encode":{"title":{"update":{"angle":{"value":-90}}}}}}
}},
{"data":{"name":"curve"},
"mark":{"type":"line","strokeWidth":1.5,"clip":true},
"encoding":{
"x":{"field":"mu","type":"quantitative"},
"y":{"field":"T","type":"quantitative"},
"stroke":{"datum":"large-Nf boundary","type":"nominal","scale":{"range":["#808080"]},
"legend":{"orient":"top-right","title":null,"symbolType":"stroke","symbolSize":576,"symbolStrokeWidth":1.5,"fillColor":"white","strokeColor":"#d0d0d0","padding":7,"cornerRadius":3,"labelFontSize":11,"labelColor":"black","labelOffset":8,"offset":8}}
}}
]
}
